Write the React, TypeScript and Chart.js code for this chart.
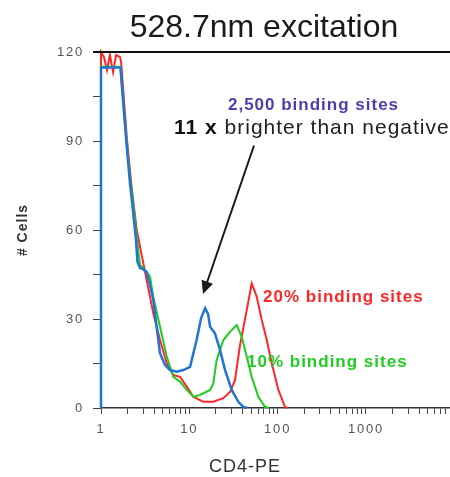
import { useEffect, useRef } from 'react';
import { Chart, registerables } from 'chart.js';

Chart.register(...registerables);

// CD4-PE intensity (log scale) and cell counts for each population
const sites2500X = [1, 1, 1.66, 1.95, 2.13, 2.32, 2.49, 2.59, 2.77, 2.99, 3.29, 3.59, 3.91, 4.31, 4.66, 5.31, 6.04, 7.2, 8.55, 10.2, 12.1, 13.6, 15.1, 16.3, 17.2, 19.5, 22.3, 25.4, 30.2, 35.9, 40.9, 45];
const sites2500Y = [0, 114.8, 114.8, 88.6, 75.8, 65.7, 56.6, 49.2, 47.2, 46.8, 45.8, 41.5, 36.4, 26.3, 18.5, 14.5, 12.8, 12.2, 12.8, 13.9, 22.9, 30.3, 33.6, 31.7, 27.4, 25.2, 19.5, 12.8, 6.1, 2.1, 0.4, 0];

const sites10X = [1, 1, 1.66, 1.71, 1.95, 2.13, 2.36, 2.56, 2.77, 3.29, 3.59, 3.91, 4.66, 5.55, 6.59, 7.85, 9.35, 11.1, 13.2, 17.2, 18.7, 20.4, 24.3, 28.9, 34.4, 39.2, 44.7, 50.9, 60.4, 72.0, 80];
const sites10Y = [0, 115, 115, 110.5, 89.7, 78.2, 66.7, 56.6, 48.2, 45.9, 44.3, 37.5, 27.4, 17.3, 10.5, 8.9, 6.1, 3.8, 4.4, 6.1, 8.3, 16.2, 22.9, 25.7, 28.0, 24.0, 17.3, 10.5, 3.8, 0.4, 0];

const sites20X = [1, 1, 1.08, 1.17, 1.26, 1.37, 1.48, 1.64, 1.69, 1.97, 2.24, 2.54, 2.77, 3.29, 3.91, 4.66, 5.55, 6.59, 7.85, 9.35, 11.1, 14.4, 18.7, 24.3, 28.9, 32.9, 37.5, 44.7, 50.9, 58.0, 66.1, 75.3, 85.8, 102, 121, 130];
const sites20Y = [0, 120, 118.3, 113.9, 119, 113.2, 119, 118.3, 116.6, 90.3, 73.5, 60, 54.3, 43.1, 31.9, 22.9, 15.1, 11.1, 10.5, 7.2, 3.8, 2.1, 2.1, 3.3, 5.4, 9.4, 21.2, 33.0, 42.0, 37.5, 29.7, 22.9, 15.1, 6.1, 0.4, 0];

// axis ticks
const xDecades = [1, 10, 100, 1000];
const xMinorSteps = [1, 2, 3, 4, 5, 6, 7, 8, 9];
const xMin = 1;
const xMax = 8950;
const yTickStep = 15;
const yLabelStep = 30;
const yMax = 120;

// annotation anchors in data units
const arrowFrom = { x: 54, y: 88.5 };
const arrowTo = { x: 14.3, y: 38.4 };
const blueLabelAt = { x: 27.4, y: 102.1 };
const brighterLabelAt = { x: 6.71, y: 94.4 };
const redLabelAt = { x: 68.4, y: 37.4 };
const greenLabelAt = { x: 45.0, y: 15.5 };

const RED = '#ff2626';
const GREEN = '#22cc22';
const BLUE = '#2272d8';
const FONT = '"Liberation Sans", Arial, sans-serif';

const toPoints = (xs: number[], ys: number[]) => xs.map((x, i) => ({ x, y: ys[i] }));

const figureText = {
  id: 'figureText',
  beforeDraw(chart: any) {
    chart.ctx.letterSpacing = '1.8px';
  },
  afterDraw(chart: any) {
    const { ctx, chartArea, scales } = chart;
    const xs = scales.x;
    const ys = scales.y;
    const px = (p: { x: number; y: number }) => [xs.getPixelForValue(p.x), ys.getPixelForValue(p.y)];
    ctx.save();

    // upper frame line
    ctx.strokeStyle = '#111';
    ctx.lineWidth = 2;
    ctx.beginPath();
    ctx.moveTo(chartArea.left - 8, chartArea.top);
    ctx.lineTo(chartArea.right, chartArea.top);
    ctx.stroke();

    // title
    ctx.letterSpacing = '0px';
    ctx.fillStyle = '#1a1a1a';
    ctx.font = `32px ${FONT}`;
    ctx.textAlign = 'center';
    ctx.textBaseline = 'alphabetic';
    ctx.fillText('528.7nm excitation', 264, 37);

    // axis titles
    ctx.letterSpacing = '1px';
    ctx.fillStyle = '#333';
    ctx.font = `18px ${FONT}`;
    ctx.textBaseline = 'middle';
    ctx.fillText('CD4-PE', 245, 467);

    ctx.save();
    ctx.translate(23, 230);
    ctx.rotate(-Math.PI / 2);
    ctx.font = `bold 14px ${FONT}`;
    ctx.fillStyle = '#333';
    ctx.fillText('# Cells', 0, 0);
    ctx.restore();

    // population labels
    ctx.textAlign = 'left';
    ctx.textBaseline = 'middle';
    ctx.letterSpacing = '1px';
    ctx.font = `bold 17px ${FONT}`;
    const labels: [string, { x: number; y: number }, string][] = [
      ['2,500 binding sites', blueLabelAt, '#4a3fae'],
      ['20% binding sites', redLabelAt, RED],
      ['10% binding sites', greenLabelAt, GREEN],
    ];
    labels.forEach(([text, at, color]) => {
      const [lx, ly] = px(at);
      ctx.fillStyle = color;
      ctx.fillText(text, lx, ly);
    });

    // brightness note
    const [bx, by] = px(brighterLabelAt);
    ctx.letterSpacing = '1px';
    ctx.fillStyle = '#111';
    ctx.font = `bold 21px ${FONT}`;
    const lead = '11 x ';
    ctx.fillText(lead, bx, by);
    const leadW = ctx.measureText(lead).width;
    ctx.fillStyle = '#222';
    ctx.font = `21px ${FONT}`;
    ctx.fillText('brighter than negative', bx + leadW, by);

    // arrow to the 2,500-site peak
    const [ax0, ay0] = px(arrowFrom);
    const [ax1, ay1] = px(arrowTo);
    const ang = Math.atan2(ay1 - ay0, ax1 - ax0);
    const headLen = 13;
    const headHalf = 6;
    ctx.strokeStyle = '#1a1a1a';
    ctx.fillStyle = '#1a1a1a';
    ctx.lineWidth = 2;
    ctx.beginPath();
    ctx.moveTo(ax0, ay0);
    ctx.lineTo(ax1 - Math.cos(ang) * headLen * 0.8, ay1 - Math.sin(ang) * headLen * 0.8);
    ctx.stroke();
    ctx.beginPath();
    ctx.moveTo(ax1, ay1);
    ctx.lineTo(ax1 - Math.cos(ang) * headLen - Math.sin(ang) * headHalf, ay1 - Math.sin(ang) * headLen + Math.cos(ang) * headHalf);
    ctx.lineTo(ax1 - Math.cos(ang) * headLen + Math.sin(ang) * headHalf, ay1 - Math.sin(ang) * headLen - Math.cos(ang) * headHalf);
    ctx.closePath();
    ctx.fill();

    ctx.restore();
    ctx.letterSpacing = '0px';
  },
};

export default function App() {
  const canvasRef = useRef<HTMLCanvasElement | null>(null);

  useEffect(() => {
    const canvas = canvasRef.current;
    if (!canvas) return;
    const xTickValues: number[] = [];
    xDecades.forEach((d) => xMinorSteps.forEach((s) => xTickValues.push(d * s)));

    const chart = new Chart(canvas, {
      type: 'line',
      data: {
        datasets: [
          { label: '2,500 binding sites', data: toPoints(sites2500X, sites2500Y), borderColor: BLUE, borderWidth: 2.5, order: 0, clip: 4 },
          { label: '10% binding sites', data: toPoints(sites10X, sites10Y), borderColor: GREEN, borderWidth: 2, order: 1, clip: 4 },
          { label: '20% binding sites', data: toPoints(sites20X, sites20Y), borderColor: RED, borderWidth: 2, order: 2, clip: 4 },
        ],
      },
      options: {
        animation: false,
        responsive: false,
        devicePixelRatio: 1,
        elements: { point: { radius: 0 }, line: { tension: 0, fill: false } },
        layout: { padding: { top: 52, left: 0, right: 0, bottom: 0 } },
        plugins: { legend: { display: false }, tooltip: { enabled: false }, title: { display: false } },
        scales: {
          x: {
            type: 'logarithmic',
            min: xMin,
            max: xMax,
            afterBuildTicks: (scale: any) => {
              scale.ticks = xTickValues.filter((v) => v <= xMax).map((v) => ({ value: v, major: xDecades.includes(v) }));
            },
            afterFit: (scale: any) => {
              scale.height = 69;
              scale.paddingLeft = 0;
              scale.paddingRight = 0;
            },
            ticks: {
              autoSkip: false,
              maxRotation: 0,
              padding: 8,
              color: '#555',
              font: { family: FONT, size: 13 },
              callback: (value: any) => (xDecades.includes(Number(value)) ? String(value) : ''),
            },
            grid: { drawOnChartArea: false, drawTicks: true, tickLength: 6, color: '#444' },
            border: { display: true, color: '#333', width: 1.5 },
          },
          y: {
            type: 'linear',
            min: 0,
            max: yMax,
            afterFit: (scale: any) => {
              scale.width = 101;
            },
            ticks: {
              stepSize: yTickStep,
              padding: 9,
              color: '#555',
              font: { family: FONT, size: 13 },
              callback: (value: any) => (Number(value) % yLabelStep === 0 ? String(value) : ''),
            },
            grid: { drawOnChartArea: false, drawTicks: true, tickLength: 8, color: '#444' },
            border: { display: true, color: '#777', width: 1 },
          },
        },
      },
      plugins: [figureText],
    } as any);

    return () => chart.destroy();
  }, []);

  return (
    <div style={{ position: 'absolute', left: 0, top: 0, width: 450, height: 477, background: '#fff' }}>
      <canvas ref={canvasRef} width={450} height={477} style={{ display: 'block' }} />
    </div>
  );
}
